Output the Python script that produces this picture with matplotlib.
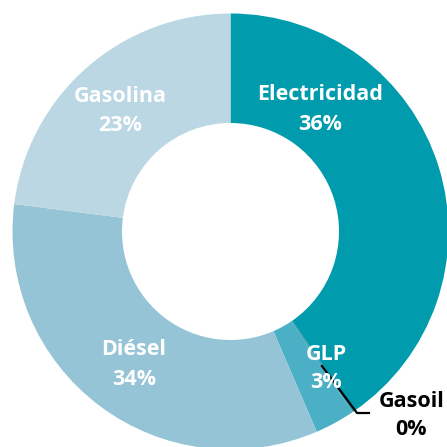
import matplotlib
matplotlib.use("Agg")
import matplotlib.pyplot as plt

# datos (tamaño de los sectores tal como se ven en el gráfico)
categorias = ["Electricidad", "Gasoil", "GLP", "Diésel", "Gasolina"]
valores = [40.4, 0.15, 3.0, 33.5, 23.0]
etiquetas = ["36%", "0%", "3%", "34%", "23%"]
colores = ["#009BAC", "#2E93A6", "#4BAFC6", "#95C4D6", "#BAD7E3"]

W = 447
fig = plt.figure(figsize=(4.47, 4.47), dpi=100)
ax = fig.add_axes([0, 0, 1, 1])
ax.set_xlim(0, W)
ax.set_ylim(0, W)
ax.set_aspect("equal")
ax.axis("off")

cx, cy = 230.5, W - 231.5
ax.pie(valores, colors=colores, startangle=90, counterclock=False,
       center=(cx, cy), radius=218,
       wedgeprops=dict(width=109.5, linewidth=0))
ax.set_xlim(0, W)
ax.set_ylim(0, W)

fuente = dict(family=["Open Sans", "DejaVu Sans"], fontweight="bold", fontsize=15.5,
              ha="center", va="baseline")

# etiquetas dentro del anillo (x, línea base nombre, línea base %)
pos = {"Electricidad": (320, 100, 130), "GLP": (326, 360, 388),
       "Diésel": (134, 355, 385), "Gasolina": (120, 102, 131)}
for cat, et in zip(categorias, etiquetas):
    if cat in pos:
        x, y1, y2 = pos[cat]
        ax.text(x, W - y1, cat, color="white", **fuente)
        ax.text(x, W - y2, et, color="white", **fuente)

# Gasoil con línea guía
ax.plot([322, 357, 369], [W - 366, W - 413, W - 413], color="black", lw=1.6)
ax.text(412, W - 407, categorias[1], color="black", **fuente)
ax.text(411, W - 435, etiquetas[1], color="black", **fuente)

fig.savefig("out.png", dpi=100)
